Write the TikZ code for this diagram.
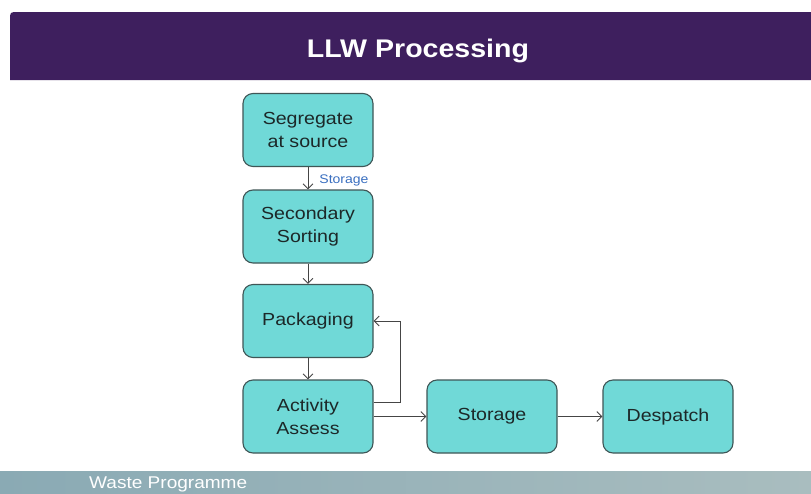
\documentclass[tikz,border=0pt]{standalone}
\usepackage{fontspec}
\setmainfont[FakeStretch=1.12]{Liberation Sans}
\usetikzlibrary{arrows.meta,positioning,calc}
\definecolor{hdr}{HTML}{3E1F5E}
\definecolor{boxfill}{HTML}{70D9D7}
\definecolor{boxline}{HTML}{3F5656}
\definecolor{arrcol}{HTML}{454545}
\definecolor{lblblue}{HTML}{3A6FC0}
\definecolor{footA}{HTML}{8AAAB4}
\definecolor{footB}{HTML}{A9BDBF}
\definecolor{boxtext}{HTML}{1C2828}
\tikzset{
  stepbox/.style={draw=boxline, line width=1.1pt, fill=boxfill, rounded corners=10pt,
    minimum width=130pt, minimum height=73pt, inner sep=0pt, align=center,
    text=boxtext, font=\fontsize{17.5}{23.5}\selectfont},
  arr/.style={draw=arrcol, line width=0.9pt, -{Straight Barb[length=5pt,width=10pt]}},
}
\begin{document}
\begin{tikzpicture}[x=1pt,y=-1pt]
\useasboundingbox (0,0) rectangle (811,493);
\fill[white] (0,0) rectangle (811,493);
% header
\fill[hdr] (10,80) -- (10,20) .. controls (10,12) .. (18,12) -- (811,12) -- (811,80) -- cycle;
\node[anchor=base, text=white, font=\bfseries\fontsize{25.5}{30}\selectfont] (title) at (418,57) {LLW Processing};
% footer
\shade[left color=footA, right color=footB] (0,471) rectangle (811,493);
\node[anchor=base west, text=white, font=\fontsize{17}{19}\selectfont, inner sep=0pt] (foot) at (89,488) {Waste Programme};
% boxes
\node[stepbox] (seg) at (308,130) {Segregate\\at source};
\node[stepbox] (sec) at (308,226.5) {Secondary\\Sorting};
\node[stepbox] (pack) at (308,321) {Packaging};
\node[stepbox] (act) at (308,416.5) {Activity\\Assess};
\node[stepbox] (stor) at (492,416.5) {Storage};
\node[stepbox] (desp) at (668,416.5) {Despatch};
% connectors
\draw[arr] (seg) -- node[pos=0.6, right=10pt, text=lblblue, font=\fontsize{12.5}{14}\selectfont, inner sep=1pt] (lbl) {Storage} (sec);
\draw[arr] (sec) -- (pack);
\draw[arr] (pack) -- (act);
\draw[arr] ([yshift=14.5pt]act.east) -- ++(27,0) |- (pack.east);
\draw[arr] (act) -- (stor);
\draw[arr] (stor) -- (desp);
\end{tikzpicture}
\end{document}
